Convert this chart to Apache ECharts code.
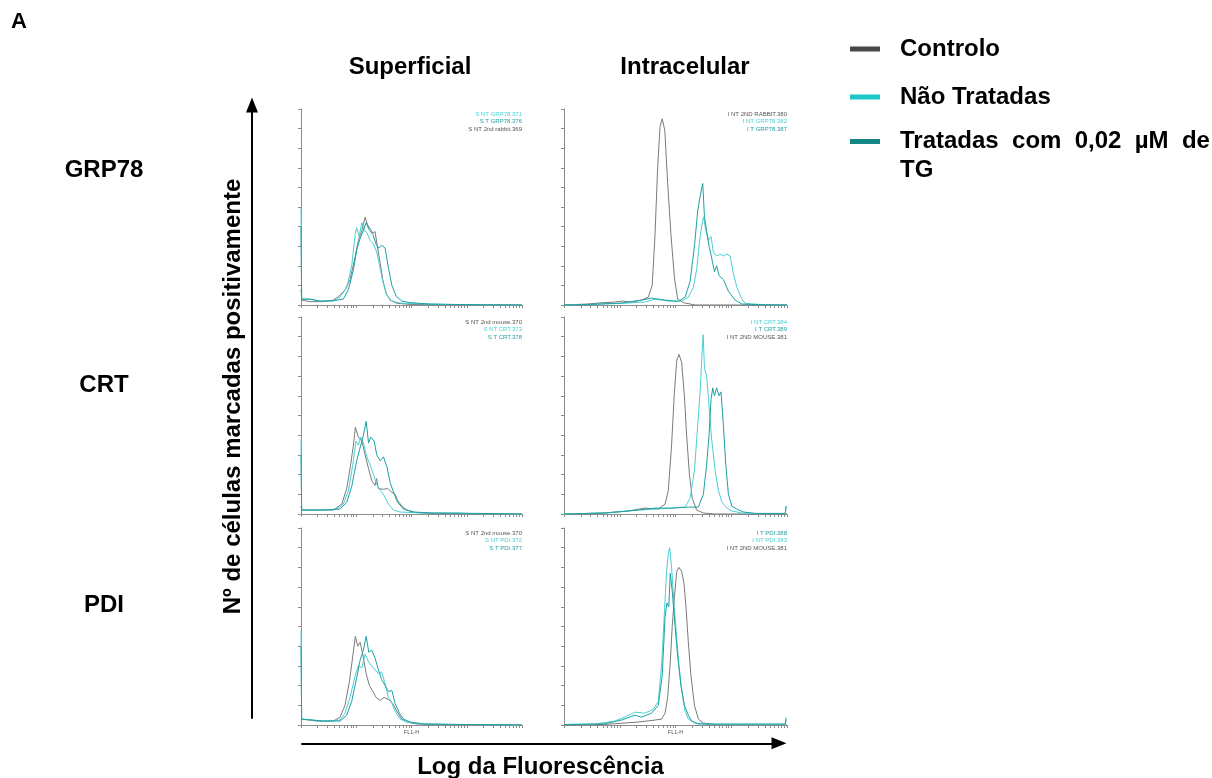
<!DOCTYPE html>
<html>
<head>
<meta charset="utf-8">
<title>Citometria de fluxo - GRP78, CRT, PDI</title>
<script src="https://cdn.jsdelivr.net/npm/echarts@6/dist/echarts.min.js"></script>
<style>
  html, body { margin: 0; padding: 0; background: #fff; }
  #chart { width: 1212px; height: 778px; }
</style>
</head>
<body>
<div id="chart"></div>
<script>
// eixo x em canais FL1-H (0-1024, 4 décadas log), eixo y em contagens (% do eixo)
const seriesNames = ['Controlo', 'Não Tratadas', 'Tratadas com 0,02 µM de TG']
const columnTitles = ['Superficial', 'Intracelular']
const rowTitles = ['GRP78', 'CRT', 'PDI']

// GRP78 superficial
const grp78SupCtrl = [[0,8],[4,2.5],[42,1.7],[104,1.7],[150,2.5],[181,5],[204,7.7],[227,12.8],[251,24.7],[266,33],[282,38],[297,44.8],[308,41],[320,39],[333,36.6],[343,37.5],[354,29.8],[367,21.3],[379,12.8],[394,6],[413,2.5],[444,0.9],[506,0.3],[1024,0]]
const grp78SupNT = [[0,49],[3,3],[42,3],[88,2],[150,2],[181,4],[212,9],[235,20],[251,36],[258,39.5],[269,35],[282,42],[292,38],[305,37],[320,33],[336,31],[351,27],[364,20],[379,12],[398,5],[421,2],[459,1],[568,0.5],[722,0.2],[1024,0]]
const grp78SupT = [[0,40],[3,3],[42,3],[88,2],[150,2.2],[196,3],[220,8],[243,18],[258,28],[274,34],[289,38],[302,42],[317,38],[333,36],[348,31],[360,29],[374,30.5],[390,29],[405,19],[421,10],[441,4.5],[467,2],[506,1.2],[599,0.5],[753,0.2],[1024,0]]

// GRP78 intracelular
const grp78IntCtrl = [[0,0],[110,0.5],[180,1.2],[233,1.5],[270,2],[310,1.5],[356,2.5],[387,4],[405,10],[418,36],[430,70],[441,91],[451,95],[463,89],[476,62],[491,36],[507,14],[522,3],[548,1.2],[602,0],[1024,0]]
const grp78IntNT = [[0,0],[110,0.2],[264,0.8],[371,1.5],[418,3],[479,2],[540,2],[571,4],[594,9],[609,18],[625,35],[635,42],[641,45],[651,38],[663,33],[675,35],[686,27],[701,25],[717,26],[732,25],[747,26],[763,25],[778,16],[794,9],[817,3],[832,0.8],[909,0.2],[1024,0]]
const grp78IntT = [[0,0],[110,0.3],[264,1],[356,2.5],[402,3.5],[464,2.5],[525,1.8],[556,4],[579,12],[599,30],[614,48],[626,56],[637,62],[645,45],[655,38],[666,30],[678,24],[691,17],[701,20],[712,15],[732,13],[755,7],[786,2.5],[817,0.5],[878,0.2],[1024,0]]

// CRT superficial
const crtSupCtrl = [[0,4],[3,2],[73,2],[150,2],[189,5],[212,13],[230,25],[243,35],[252,44],[266,39],[282,37],[297,30],[313,23],[328,17],[343,14.5],[350,18],[358,13],[382,12.5],[401,13],[421,11],[436,10],[447,7],[467,4],[490,2],[529,0.8],[599,0.3],[1024,0]]
const crtSupNT = [[0,38],[3,2],[11,2],[104,2],[166,2.5],[196,5],[220,12],[240,25],[255,37],[266,35],[277,39],[289,36],[305,29],[320,25],[336,20],[351,15],[367,12],[385,9.5],[405,5],[429,2],[459,1],[568,0.5],[722,0.5],[784,0.2],[1024,0]]
const crtSupT = [[0,30],[3,2],[104,2],[181,2.5],[212,6],[235,14],[258,27],[277,35],[289,40],[302,47],[313,36],[323,39],[339,37],[351,30],[367,27],[382,29],[398,24],[413,16],[429,11],[447,6],[475,2.5],[521,1],[614,0.5],[753,0.4],[1024,0]]

// CRT intracelular
const crtIntCtrl = [[0,0],[187,0.5],[295,1.5],[371,3],[433,2.5],[464,5],[479,12],[494,35],[507,62],[518,78],[528,81],[540,77],[553,60],[563,40],[576,20],[589,8],[609,2],[640,0.5],[694,0],[1024,0]]
const crtIntNT = [[0,0],[187,0.5],[341,2],[418,2.5],[494,3],[556,3.5],[579,8],[599,22],[614,45],[625,62],[633,80],[639,91],[645,74],[655,70],[666,55],[678,38],[694,22],[709,12],[725,6],[748,3],[771,1.5],[817,0.5],[909,0.2],[1016,0.2],[1020,4]]
const crtIntT = [[0,0],[187,0.5],[341,2],[418,3],[494,3],[571,3.5],[617,3.5],[640,10],[655,25],[666,40],[675,58],[683,64],[691,60],[701,64],[712,60],[721,62],[732,45],[743,25],[755,10],[771,4],[794,2.5],[824,1],[878,0.3],[1016,0.3],[1020,4]]

// PDI superficial
const pdiSupCtrl = [[0,3],[3,2],[73,2],[150,2],[181,4],[204,10],[224,22],[240,35],[252,45],[263,40],[274,42],[286,36],[302,26],[317,20],[333,17],[348,14],[367,12.5],[385,14],[405,13],[425,11],[444,7],[467,3],[490,1.5],[537,0.5],[645,0.3],[1024,0]]
const pdiSupNT = [[0,48],[3,3],[11,3],[104,2],[181,2.5],[204,6],[227,14],[251,25],[266,30],[282,29],[297,36],[313,32],[328,30],[343,28],[359,26],[374,27],[387,22],[405,14],[421,11],[436,7],[459,3],[490,1.5],[568,0.5],[691,0.3],[1024,0]]
const pdiSupT = [[0,40],[3,3],[104,2],[181,2],[212,5],[235,12],[258,24],[274,33],[289,38],[302,45],[314,37],[328,38],[343,34],[359,28],[374,23],[390,20],[405,17],[421,17.5],[436,11],[456,6],[475,3],[506,1.5],[568,0.5],[722,0.3],[1024,0]]

// PDI intracelular
const pdiIntCtrl = [[0,0],[187,0.3],[341,1.5],[418,2.5],[448,3],[464,6],[476,14],[487,30],[497,50],[507,65],[518,78],[528,80],[540,78],[551,72],[560,60],[571,42],[583,25],[599,10],[617,3],[640,1],[694,0.2],[1024,0]]
const pdiIntNT = [[0,0.3],[141,0.5],[233,2],[279,4],[325,6.5],[371,6],[410,8],[433,12],[448,30],[460,55],[471,78],[479,87],[485,90],[494,80],[505,62],[517,45],[528,30],[540,18],[556,7],[571,3],[602,1],[663,0.3],[1016,0.3],[1020,4]]
const pdiIntT = [[0,0.2],[187,0.6],[264,2.5],[325,5],[356,4],[402,6],[433,10],[451,25],[464,55],[473,62],[481,60],[488,77],[497,68],[510,50],[522,35],[537,20],[553,10],[571,5],[586,2],[617,0.5],[1016,0.5],[1020,3]]

// legendas dos ficheiros FACS, por painel (chave de cor, texto)
const panelLabels = [
  [['nt', 'S NT GRP78.371'], ['t', 'S T GRP78.376'], ['ctrl', 'S NT 2nd rabbit.369']],
  [['ctrl', 'I NT 2ND RABBIT.380'], ['nt', 'I NT GRP78.382'], ['t', 'I T GRP78.387']],
  [['ctrl', 'S NT 2nd mouse.370'], ['nt', 'S NT CRT.373'], ['t', 'S T CRT.378']],
  [['nt', 'I NT CRT.384'], ['t', 'I T CRT.389'], ['ctrl', 'I NT 2ND MOUSE.381']],
  [['ctrl', 'S NT 2nd mouse.370'], ['nt', 'S NT PDI.372'], ['t', 'S T PDI.377']],
  [['t', 'I T PDI.388'], ['nt', 'I NT PDI.383'], ['ctrl', 'I NT 2ND MOUSE.381']],
]

const panelCurves = [
  [grp78SupCtrl, grp78SupNT, grp78SupT],
  [grp78IntCtrl, grp78IntNT, grp78IntT],
  [crtSupCtrl, crtSupNT, crtSupT],
  [crtIntCtrl, crtIntNT, crtIntT],
  [pdiSupCtrl, pdiSupNT, pdiSupT],
  [pdiIntCtrl, pdiIntNT, pdiIntT],
]

const FONT = '"Liberation Sans", Arial, sans-serif'
const LINE_COLORS = { ctrl: '#7a7a7a', nt: '#48d0d3', t: '#1f9fa2' }
const LEGEND_COLORS = ['#474747', '#1bc6c6', '#138585']
const AXIS_COLOR = '#8c8c8c'

const columns = [{ left: 301, width: 221, center: 410 }, { left: 564, width: 223, center: 685 }]
const rows = [{ top: 109, height: 196, label: 158 }, { top: 317, height: 197, label: 373 }, { top: 528, height: 197, label: 593 }]

// marcas logarítmicas: 1..9 x 10^d, 256 canais por década
const logTicks = []
for (let d = 0; d < 4; d++) {
  for (let k = 1; k < 10; k++) logTicks.push(256 * Math.log10(k * Math.pow(10, d)))
}
logTicks.push(1024)

const grids = []
const xAxes = []
const yAxes = []
const series = []
const titles = []

panelCurves.forEach((curves, i) => {
  const col = columns[i % 2]
  const row = rows[Math.floor(i / 2)]
  const isBottom = Math.floor(i / 2) === rows.length - 1
  grids.push({ left: col.left, top: row.top, width: col.width, height: row.height })
  xAxes.push({
    gridIndex: i, type: 'value', min: 0, max: 1024,
    axisLine: { lineStyle: { color: AXIS_COLOR, width: 1 } },
    axisTick: { show: true, customValues: logTicks, length: 3, lineStyle: { color: AXIS_COLOR } },
    axisLabel: { show: false },
    splitLine: { show: false },
    name: isBottom ? 'FL1-H' : '',
    nameLocation: 'middle', nameGap: 4,
    nameTextStyle: { fontSize: 5.5, color: '#555', fontFamily: FONT },
  })
  yAxes.push({
    gridIndex: i, type: 'value', min: 0, max: 100, interval: 10,
    axisLine: { show: true, lineStyle: { color: AXIS_COLOR, width: 1 } },
    axisTick: { show: true, length: 3, lineStyle: { color: AXIS_COLOR } },
    axisLabel: { show: false },
    splitLine: { show: false },
  })
  const keys = ['ctrl', 'nt', 't']
  curves.forEach((data, k) => {
    series.push({
      type: 'line', name: seriesNames[k], xAxisIndex: i, yAxisIndex: i,
      data, symbol: 'none', silent: true,
      lineStyle: { width: 1, color: LINE_COLORS[keys[k]] },
      itemStyle: { color: LINE_COLORS[keys[k]] },
      z: 2 + k,
    })
  })
  const rich = {}
  Object.keys(LINE_COLORS).forEach(key => {
    rich[key] = { color: key === 'ctrl' ? '#555' : LINE_COLORS[key], fontSize: 6, lineHeight: 7.5, fontFamily: FONT, align: 'right' }
  })
  titles.push({
    text: panelLabels[i].map(([key, txt]) => `{${key}|${txt}}`).join('\n'),
    left: col.left + col.width, top: row.top + 1.5, textAlign: 'right', padding: 0,
    textStyle: { fontSize: 6, lineHeight: 7.5, fontWeight: 'normal', rich },
  })
})

const bold = { fontFamily: FONT, fontWeight: 'bold', fontSize: 24, color: '#000' }
titles.push({ text: 'A', left: 11, top: 11, padding: 0, textStyle: Object.assign({}, bold, { fontSize: 22 }) })
columnTitles.forEach((t, c) => titles.push({ text: t, left: columns[c].center, top: 55, textAlign: 'center', padding: 0, textStyle: bold }))
rowTitles.forEach((t, r) => titles.push({ text: t, left: 104, top: rows[r].label, textAlign: 'center', padding: 0, textStyle: bold }))

// eixos-seta globais
const arrowLine = {
  show: true, symbol: ['none', 'triangle'], symbolSize: [12, 15],
  lineStyle: { color: '#000', width: 2 },
}
grids.push({ left: 302, right: 433, top: 743, height: 1 })
xAxes.push({
  gridIndex: 6, type: 'value', min: 0, max: 1,
  axisLine: arrowLine, axisTick: { show: false }, axisLabel: { show: false }, splitLine: { show: false },
  name: 'Log da Fluorescência', nameLocation: 'middle', nameGap: 12, nameTextStyle: bold,
})
yAxes.push({ gridIndex: 6, type: 'value', show: false })
grids.push({ left: 252, width: 1, top: 105, bottom: 60 })
xAxes.push({ gridIndex: 7, type: 'value', show: false })
yAxes.push({
  gridIndex: 7, type: 'value', min: 0, max: 1,
  axisLine: arrowLine, axisTick: { show: false }, axisLabel: { show: false }, splitLine: { show: false },
  name: 'Nº de células marcadas positivamente', nameLocation: 'middle', nameGap: 7,
  nameTextStyle: Object.assign({ padding: [0, 0, 0, 30] }, bold),
})

const legendText = Object.assign({ padding: [0, 0, 0, 15] }, bold)

const option = {
  backgroundColor: '#fff',
  animation: false,
  title: titles,
  legend: [
    {
      orient: 'vertical', left: 845, top: 32, itemWidth: 30, itemHeight: 5, itemGap: 24, icon: 'rect',
      data: [0, 1].map(k => ({ name: seriesNames[k], itemStyle: { color: LEGEND_COLORS[k] } })),
      textStyle: legendText,
    },
    {
      // linha vazia no topo para alinhar o ícone com a primeira linha do texto
      orient: 'vertical', left: 845, top: 93, itemWidth: 30, itemHeight: 5, icon: 'rect',
      data: [{ name: seriesNames[2], itemStyle: { color: LEGEND_COLORS[2] } }],
      formatter: () => ' \nTratadas  com  0,02  µM  de\nTG',
      textStyle: Object.assign({}, legendText, { lineHeight: 29 }),
    },
  ],
  grid: grids,
  xAxis: xAxes,
  yAxis: yAxes,
  series,
}

const chart = echarts.init(document.getElementById('chart'), null, { renderer: 'canvas' })
chart.setOption(option)
window.addEventListener('resize', () => chart.resize())
</script>
</body>
</html>
